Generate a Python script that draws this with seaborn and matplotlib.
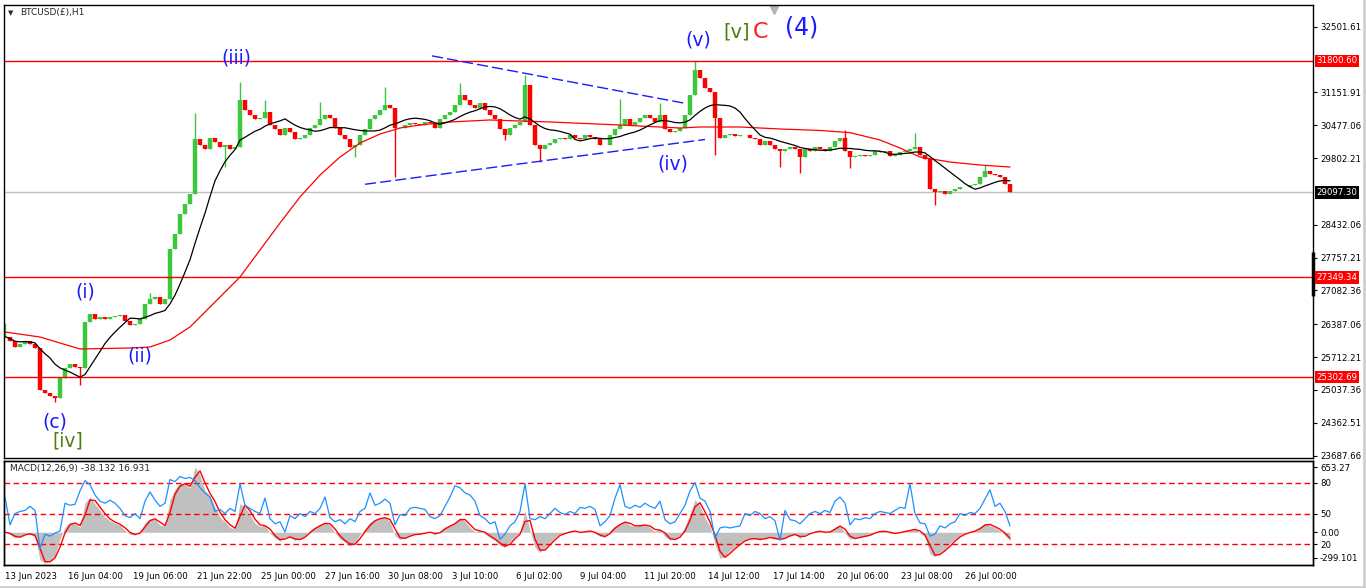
import numpy as np
import pandas as pd
import matplotlib
matplotlib.use("Agg")
import matplotlib.pyplot as plt
import matplotlib.transforms as mtransforms
from matplotlib.lines import Line2D
import seaborn as sns

sns.set_style("white")
plt.rcParams["font.family"] = ["DejaVu Sans"]

STEP = 5  # one reading every 5 hourly bars, bar 0 = 13 Jun 2023

# BTCUSD H1 closes
closes = [
    26135, 26053, 25930, 25990, 26053, 25990, 25890, 25030, 24970, 24910,
    24870, 25280, 25480, 25580, 25520, 25480, 26440, 26600, 26500, 26545,
    26500, 26545, 26565, 26585, 26460, 26380, 26400, 26500, 26810, 26910,
    26955, 26810, 26910, 27935, 28240, 28650, 28855, 29060, 30185, 30080,
    29980, 30225, 30125, 30020, 30080, 29980, 30020, 31000, 30800, 30695,
    30595, 30635, 30755, 30490, 30390, 30285, 30430, 30330, 30185, 30225,
    30285, 30430, 30490, 30595, 30695, 30635, 30430, 30285, 30185, 30020,
    30080, 30285, 30390, 30595, 30695, 30800, 30900, 30840, 30430, 30430,
    30490, 30530, 30510, 30490, 30550, 30530, 30430, 30595, 30695, 30755,
    30900, 31105, 31000, 30900, 30840, 30940, 30800, 30695, 30595, 30390,
    30285, 30430, 30490, 30550, 31310, 30490, 30080, 29980, 30080, 30120,
    30185, 30225, 30185, 30285, 30225, 30185, 30285, 30245, 30185, 30080,
    30080, 30285, 30390, 30490, 30595, 30490, 30550, 30635, 30695, 30635,
    30550, 30695, 30390, 30330, 30350, 30430, 30695, 31105, 31615, 31450,
    31250, 31165, 30635, 30225, 30285, 30305, 30265, 30285, 30285, 30225,
    30185, 30080, 30145, 30080, 29980, 29940, 29980, 30020, 29980, 29815,
    29980, 29940, 30020, 29980, 29940, 30020, 30145, 30225, 29940, 29815,
    29855, 29875, 29835, 29875, 29940, 29920, 29940, 29855, 29875, 29920,
    29940, 29980, 30020, 29875, 29775, 29160, 29100, 29120, 29060, 29120,
    29160, 29200, 29200, 29245, 29265, 29405, 29530, 29470, 29450, 29405,
    29265, 29097.30,
]

# blue oscillator in the lower panel (0-100 scale), same bars
osc = [
    66, 39, 50, 52, 53, 57, 53, 16, 30, 28,
    31, 33, 60, 58, 59, 72, 82, 78, 68, 62,
    60, 63, 60, 55, 48, 46, 50, 45, 62, 71,
    63, 57, 60, 83, 81, 86, 84, 85, 82, 75,
    70, 66, 52, 54, 50, 55, 52, 79, 58, 55,
    52, 50, 65, 45, 40, 42, 32, 48, 45, 50,
    47, 52, 50, 55, 66, 46, 42, 44, 40, 45,
    42, 52, 55, 70, 58, 60, 64, 60, 39, 49,
    48, 55, 56, 55, 54, 47, 45, 48, 57, 66,
    77, 75, 70, 68, 62, 48, 45, 40, 42, 25,
    30, 38, 42, 52, 79, 45, 44, 47, 45, 50,
    55, 51, 49, 52, 50, 56, 55, 57, 54, 38,
    42, 48, 65, 78, 57, 55, 58, 56, 60, 57,
    55, 62, 44, 40, 42, 50, 58, 72, 80, 65,
    62, 52, 26, 36, 37, 36, 37, 38, 50, 48,
    52, 50, 45, 47, 43, 24, 53, 44, 43, 40,
    45, 50, 52, 50, 53, 51, 62, 66, 60, 39,
    45, 44, 46, 45, 50, 52, 51, 50, 53, 56,
    55, 79, 50, 41, 40, 28, 30, 38, 36, 40,
    42, 50, 48, 51, 50, 55, 64, 73, 57, 60,
    52, 38,
]

# long wicks visible on the chart
wick_bars = [0, 50, 75, 145, 190, 220, 235, 260, 315, 350, 380, 390, 455,
             500, 520, 535, 615, 655, 690, 710, 775, 795, 840, 845, 910, 930, 980]
wick_prices = [26414, 24791, 25140, 27030, 30728, 29619, 31365, 30995, 30954,
               29824, 31263, 29413, 31345, 30174, 31509, 29722, 31016, 30934,
               31800, 29865, 29619, 29496, 30379, 29598, 30317, 28838, 29660]

# slow red moving average
red_ma_bars = [0, 35, 75, 125, 145, 165, 185, 212, 235, 255, 275, 295, 315, 335,
               355, 375, 395, 415, 445, 485, 545, 615, 675, 695, 735, 775, 815,
               845, 875, 895, 915, 945, 975, 1005]
red_ma_vals = [26229, 26126, 25880, 25900, 25921, 26064, 26332, 26886, 27359,
               27914, 28468, 29002, 29454, 29824, 30112, 30297, 30420, 30482,
               30544, 30585, 30544, 30482, 30420, 30441, 30441, 30400, 30370,
               30325, 30174, 30009, 29825, 29721, 29660, 29619]

red_levels = [31800.60, 27349.34, 25302.69]
last_price = 29097.30

price_ticks = [32501.61, 31151.91, 30477.06, 29802.21, 28432.06, 27757.21,
               27082.36, 26387.06, 25712.21, 25037.36, 24362.51, 23687.66]

date_ticks = [0, 63, 128, 192, 256, 320, 383, 447, 511, 575, 639, 703, 768, 832, 896, 960]
date_labels = ["13 Jun 2023", "16 Jun 04:00", "19 Jun 06:00", "21 Jun 22:00",
               "25 Jun 00:00", "27 Jun 16:00", "30 Jun 08:00", "3 Jul 10:00",
               "6 Jul 02:00", "9 Jul 04:00", "11 Jul 20:00", "14 Jul 12:00",
               "17 Jul 14:00", "20 Jul 06:00", "23 Jul 08:00", "26 Jul 00:00"]

# wave count labels
wave_text = ["(iii)", "(i)", "(ii)", "(c)", "[iv]", "(v)", "[v]", "C", "(4)", "(iv)"]
wave_bar = [231, 80, 135, 50, 63, 693, 732, 755, 797, 668]
wave_price = [31855, 27050, 25735, 24380, 23990, 32230, 32395, 32395, 32495, 29680]
wave_color = ["#1a1aff", "#1a1aff", "#1a1aff", "#1a1aff", "#4e7d12",
              "#1a1aff", "#4e7d12", "#ff1a1a", "#1a1aff", "#1a1aff"]
wave_size = [13.5, 13.5, 13.5, 13.5, 13.5, 13.5, 14, 16, 17, 13.5]

# triangle trend lines
tl_bars = [[427, 682], [360, 700]]
tl_prices = [[31902, 30920], [29264, 30184]]

# ---------- derived series ----------
bars = np.arange(len(closes)) * STEP
c = np.array(closes, dtype=float)
o = np.r_[c[0], c[:-1]]
hi = np.maximum(o, c)
lo = np.minimum(o, c)
for b, p in zip(wick_bars, wick_prices):
    i = b // STEP
    hi[i] = max(hi[i], p)
    lo[i] = min(lo[i], p)

ma_fast = pd.Series(c).rolling(10, min_periods=1).mean()

s = pd.Series(c)
ema12 = s.ewm(alpha=1 - (1 - 2 / 13) ** STEP, adjust=False).mean()
ema26 = s.ewm(alpha=1 - (1 - 2 / 27) ** STEP, adjust=False).mean()
macd = ema12 - ema26
signal = macd.rolling(2, min_periods=1).mean()

# ---------- figure ----------
W, H = 1366, 588
fig = plt.figure(figsize=(W / 100, H / 100), dpi=100)
fig.patch.set_facecolor("white")
ax = fig.add_axes([4.3 / W, 1 - 457.7 / H, (1313 - 4.3) / W, (457.7 - 4.5) / H])
ax2 = fig.add_axes([4.3 / W, 1 - 565 / H, (1313 - 4.3) / W, (565 - 460.7) / H])
ax3 = ax2.twinx()

GREEN = "#3cc83c"
RED = "#ff0000"
up = c >= o
dn = ~up
ax.vlines(bars[up], lo[up], hi[up], color=GREEN, lw=1.0)
ax.vlines(bars[dn], lo[dn], hi[dn], color=RED, lw=1.0)
ax.vlines(bars[up], o[up], c[up], color=GREEN, lw=3.2)
ax.vlines(bars[dn], c[dn], o[dn], color=RED, lw=3.2)

for lv in red_levels:
    ax.axhline(lv, color=RED, lw=1)
ax.axhline(last_price, color="#c0c0c0", lw=1, zorder=0)

sns.lineplot(x=red_ma_bars, y=red_ma_vals, ax=ax, color=RED, lw=0.9)
sns.lineplot(x=bars, y=ma_fast, ax=ax, color="black", lw=0.9)

for tb, tp in zip(tl_bars, tl_prices):
    ax.plot(tb, tp, color="#1a1aff", lw=1, dashes=(8, 3))

for t, b, p, col, fs in zip(wave_text, wave_bar, wave_price, wave_color, wave_size):
    ax.text(b, p, t, color=col, fontsize=fs, ha="center", va="center")

ax.set_xlim(-0.7, 1308)
ax.set_ylim(23646.3, 32957.7)
ax.set_xlabel("")
ax.set_ylabel("")
ax.tick_params(axis="x", bottom=False, labelbottom=False)
ax.yaxis.tick_right()
ax.set_yticks(price_ticks)
ax.set_yticklabels([f"{v:.2f}" for v in price_ticks])
ax.tick_params(axis="y", direction="out", length=3, width=0.8, pad=2,
               labelsize=6.2, colors="black")

trans = mtransforms.blended_transform_factory(ax.transAxes, ax.transData)
for lv in red_levels:
    ax.annotate(f"{lv:.2f}", xy=(1, lv), xycoords=trans, xytext=(2.5, 0),
                textcoords="offset points", ha="left", va="center",
                color="white", fontsize=6.2,
                bbox=dict(boxstyle="square,pad=0.2", fc=RED, ec="none"))
ax.annotate(f"{last_price:.2f}", xy=(1, last_price), xycoords=trans, xytext=(2.5, 0),
            textcoords="offset points", ha="left", va="center",
            color="white", fontsize=6.2,
            bbox=dict(boxstyle="square,pad=0.2", fc="black", ec="none"))
ax.plot([1, 1], [27873, 26973], transform=trans, color="black", lw=2.5,
        clip_on=False, solid_capstyle="butt")

trans_top = mtransforms.blended_transform_factory(ax.transData, ax.transAxes)
ax.plot([769], [0.988], marker="v", ms=6, color="#b4b4b4", transform=trans_top,
        clip_on=False)

# ---------- MACD panel ----------
ax2.fill_between(bars, 0, macd, color="#c0c0c0", lw=0)
sns.lineplot(x=bars, y=signal, ax=ax2, color=RED, lw=1)
ax2.set_ylim(-299.101, 653.27)
ax2.set_xlim(-0.7, 1308)
ax2.set_yticks([])
ax2.set_xlabel("")
ax2.set_ylabel("")
ax2.set_xticks(date_ticks)
ax2.set_xticklabels(date_labels)
for lab in ax2.get_xticklabels():
    lab.set_ha("left")
ax2.tick_params(axis="x", direction="out", length=3, width=0.8, pad=2,
                labelsize=6.2, colors="black")

for lv in [80, 50, 20]:
    ax3.axhline(lv, color=RED, lw=1, dashes=(4, 2.5))
sns.lineplot(x=bars, y=osc, ax=ax3, color="#1e90ff", lw=0.9)
ax3.set_ylim(0, 101.3)
ax3.set_xlim(-0.7, 1308)
ax3.set_xlabel("")
ax3.set_ylabel("")
zero_pos = 299.101 / (653.27 + 299.101) * 101.3
ax3.set_yticks([94.8, 80, 50, zero_pos, 20, 6.8])
ax3.set_yticklabels(["653.27", "80", "50", "0.00", "20", "-299.101"])
ax3.tick_params(axis="y", direction="out", length=3, width=0.8, pad=2,
                labelsize=6.2, colors="black")

for a in (ax, ax2, ax3):
    for sp in a.spines.values():
        sp.set_color("black")
        sp.set_linewidth(1)

# header texts
fig.text(11 / W, 1 - 13 / H, "\u25bc", fontsize=5, ha="center", va="center")
fig.text(20 / W, 1 - 13 / H, "BTCUSD(\u00a3),H1", fontsize=6.5, ha="left", va="center")
fig.text(10 / W, 1 - 468 / H, "MACD(12,26,9) -38.132 16.931", fontsize=6.5,
         ha="left", va="center")

# window frame
fig.add_artist(Line2D([1363.5 / W] * 2, [0, 1], color="#cfcfcf", lw=2))
fig.add_artist(Line2D([0, 1], [1.5 / H] * 2, color="#cfcfcf", lw=2))

fig.savefig("out.png", dpi=100)
